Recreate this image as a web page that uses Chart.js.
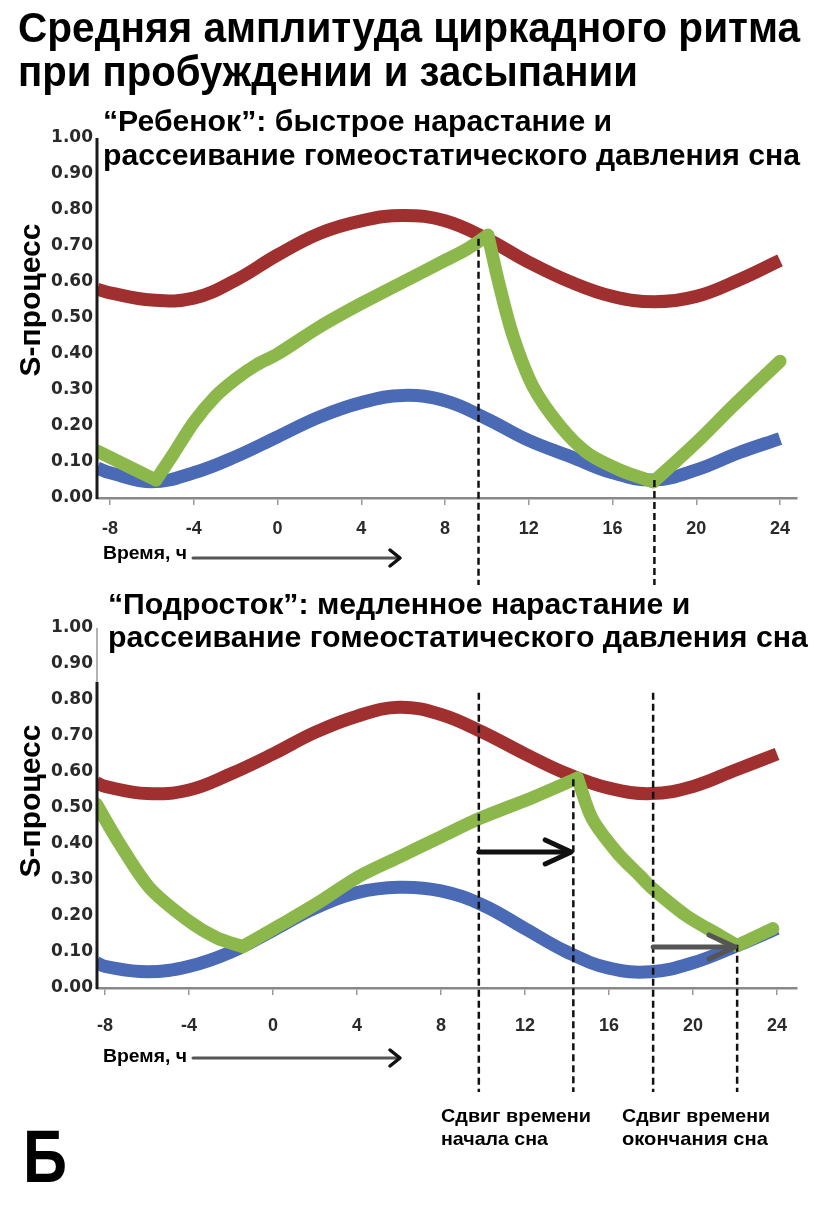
<!DOCTYPE html>
<html>
<head>
<meta charset="utf-8">
<script src="https://cdn.jsdelivr.net/npm/chart.js@4.4.1/dist/chart.umd.min.js"></script>
<style>
  body { margin: 0; width: 820px; height: 1208px; position: relative; overflow: hidden; background: #fff;
         font-family: "Liberation Sans", Arial, sans-serif; font-weight: bold; color: #000; }
  .t { position: absolute; white-space: nowrap; line-height: 1; transform-origin: left top; z-index: 2; }
  canvas { position: absolute; left: 0; z-index: 1; }
</style>
</head>
<body>
<canvas id="child_chart" width="820" height="600" style="top:0"></canvas>
<canvas id="teen_chart" width="820" height="608" style="top:600px"></canvas>
<script>
// hours on the x axis
const hourTicks = [-8, -4, 0, 4, 8, 12, 16, 20, 24]

// "Ребенок" (top chart)
const childHours = [-8.6, -8, -6, -4, -2, 0, 2, 4, 6, 8, 10, 12, 14, 16, 18, 20, 22, 24]
const childRed   = [0.58, 0.57, 0.55, 0.555, 0.605, 0.675, 0.735, 0.77, 0.785, 0.77, 0.72, 0.655, 0.60, 0.56, 0.545, 0.56, 0.605, 0.66]
const childBlue  = [0.083, 0.07, 0.045, 0.07, 0.115, 0.17, 0.225, 0.265, 0.285, 0.27, 0.22, 0.16, 0.115, 0.07, 0.05, 0.078, 0.125, 0.165]
const childGreenHours = [-8.6, -7.2, -5.8, -5, -4, -3, -2, -1, 0, 2, 4, 6, 8, 9, 10.05, 10.6, 11.25, 12.2, 13.5, 14.8, 16.35, 17.95, 19, 20.2, 21.75, 24]
const childGreenVals  = [0.13, 0.09, 0.05, 0.12, 0.21, 0.28, 0.33, 0.37, 0.40, 0.475, 0.54, 0.60, 0.66, 0.69, 0.73, 0.59, 0.45, 0.31, 0.20, 0.125, 0.078, 0.045, 0.10, 0.165, 0.255, 0.38]
const childMarkers   = [9.6, 18]
const childMarkerTop = [0.72, 0.05]

// "Подросток" (bottom chart)
const teenHours = [-8.4, -8, -6, -4, -2, 0, 2, 4, 6, 8, 10, 12, 14, 16, 18, 20, 22, 24]
const teenRed   = [0.57, 0.56, 0.54, 0.55, 0.595, 0.65, 0.71, 0.755, 0.78, 0.76, 0.71, 0.65, 0.595, 0.555, 0.54, 0.56, 0.605, 0.65]
const teenBlue  = [0.07, 0.06, 0.045, 0.06, 0.10, 0.16, 0.222, 0.265, 0.28, 0.27, 0.23, 0.165, 0.10, 0.055, 0.045, 0.07, 0.115, 0.165]
const teenGreenHours = [-8.4, -7.4, -5.9, -4.1, -2.7, -1.45, 0.5, 2.1, 4.1, 6.05, 8, 9.8, 12.4, 14.5, 15.2, 16.4, 17.5, 18.1, 19.7, 21.3, 22.1, 23.8]
const teenGreenVals  = [0.51, 0.41, 0.28, 0.19, 0.14, 0.115, 0.18, 0.235, 0.31, 0.365, 0.42, 0.47, 0.53, 0.583, 0.47, 0.375, 0.31, 0.275, 0.20, 0.145, 0.118, 0.165]
const teenMarkers   = [9.8, 14.3, 18.1, 22.1]
const teenMarkerTop = [0.82, 0.58, 0.82, 0.12]
const shiftFrom  = [9.8, 18.1]
const shiftTo    = [14.2, 22.0]
const shiftLevel = [0.378, 0.114]

const RED = '#a0302f', BLUE = '#4a6ab6', GREEN = '#8cb84b'

function toPoints(hours, vals) {
  return hours.map((h, i) => ({x: h, y: vals[i]}))
}

// cut the green curve at its turning points so every piece can be smooth and the corners stay sharp
function pieces(hours, vals) {
  const out = []
  let cur = [{x: hours[0], y: vals[0]}]
  for (let i = 1; i < hours.length; i++) {
    cur.push({x: hours[i], y: vals[i]})
    if (i < hours.length - 1 && (vals[i] - vals[i-1]) * (vals[i+1] - vals[i]) < 0) {
      out.push(cur)
      cur = [{x: hours[i], y: vals[i]}]
    }
  }
  out.push(cur)
  return out
}

function arrowHead(ctx, tipX, tipY, len, half) {
  ctx.beginPath()
  ctx.moveTo(tipX - len, tipY - half)
  ctx.lineTo(tipX, tipY)
  ctx.lineTo(tipX - len, tipY + half)
  ctx.stroke()
}

const markerPlugin = {
  id: 'markers',
  afterDatasetsDraw(chart, args, o) {
    const {ctx, chartArea} = chart
    const x = chart.scales.x, y = chart.scales.y
    ctx.save()
    // y axis line (the lower chart has only a thin line above the split value)
    const split = y.getPixelForValue(o.axisSplit)
    ctx.strokeStyle = '#999'
    ctx.lineWidth = 1.5
    ctx.beginPath()
    ctx.moveTo(chartArea.left, chartArea.top)
    ctx.lineTo(chartArea.left, split)
    ctx.stroke()
    ctx.strokeStyle = '#1a1a1a'
    ctx.lineWidth = 3
    ctx.beginPath()
    ctx.moveTo(chartArea.left, split)
    ctx.lineTo(chartArea.left, chartArea.bottom + 1)
    ctx.stroke()
    // dashed sleep / wake lines
    ctx.strokeStyle = '#111'
    ctx.lineWidth = 2.5
    ctx.setLineDash([7, 4])
    o.hours.forEach((h, i) => {
      const px = x.getPixelForValue(h)
      ctx.beginPath()
      ctx.moveTo(px, y.getPixelForValue(o.tops[i]))
      ctx.lineTo(px, chartArea.bottom + o.drop)
      ctx.stroke()
    })
    ctx.setLineDash([])
    // shift arrows
    ctx.lineCap = 'round'
    ctx.lineJoin = 'round'
    ;(o.from || []).forEach((h, i) => {
      const x0 = x.getPixelForValue(h), x1 = x.getPixelForValue(o.to[i]), py = y.getPixelForValue(o.level[i])
      ctx.strokeStyle = i === 0 ? '#111' : '#555'
      ctx.lineWidth = 5
      ctx.beginPath()
      ctx.moveTo(x0, py)
      ctx.lineTo(x1 - 2, py)
      ctx.stroke()
      arrowHead(ctx, x1, py, 26, 12)
    })
    // "Время, ч" arrow
    const ay = chartArea.bottom + o.timeArrow
    ctx.strokeStyle = '#555'
    ctx.lineWidth = 3
    ctx.beginPath()
    ctx.moveTo(chartArea.left + 96, ay)
    ctx.lineTo(chartArea.left + 300, ay)
    ctx.stroke()
    ctx.strokeStyle = '#111'
    ctx.lineWidth = 3.5
    arrowHead(ctx, chartArea.left + 303, ay, 10, 8)
    ctx.restore()
  }
}

function makeChart(id, p) {
  const curve = (data, color, tension) => ({
    data, borderColor: color, borderWidth: 13, pointRadius: 0, tension,
    borderCapStyle: 'butt', borderJoinStyle: 'round',
    clip: {left: 0, right: 8, top: 10, bottom: 10}
  })
  const datasets = pieces(p.greenHours, p.greenVals).map(seg => {
    const d = curve(seg, GREEN, 0.3)
    d.borderCapStyle = 'round'
    return d
  })
  datasets.push(curve(toPoints(p.hours, p.red), RED, 0.4))
  datasets.push(curve(toPoints(p.hours, p.blue), BLUE, 0.4))

  return new Chart(document.getElementById(id), {
    type: 'line',
    data: {datasets},
    options: {
      responsive: false,
      animation: false,
      layout: {padding: {top: p.top, left: 0, right: 23, bottom: p.bottom}},
      plugins: {
        legend: {display: false},
        tooltip: {enabled: false},
        markers: p.markers
      },
      scales: {
        x: {
          type: 'linear', min: p.xmin, max: p.xmax,
          afterBuildTicks: s => { s.ticks = hourTicks.map(v => ({value: v})) },
          afterFit: s => { s.height = 45 },
          ticks: {font: {family: 'Liberation Sans', weight: 'bold', size: 18}, color: '#2a2a2a', padding: p.xPad},
          grid: {drawOnChartArea: false, drawTicks: true, tickLength: 7, color: '#999', lineWidth: 1.5},
          border: {color: '#888', width: 2.5}
        },
        y: {
          min: 0, max: 1,
          afterFit: s => { s.width = 97 },
          ticks: {stepSize: 0.1, callback: v => v.toFixed(2), font: {family: 'DejaVu Sans', weight: 'bold', size: 17}, color: '#2a2a2a', padding: 4},
          grid: {drawOnChartArea: false, drawTicks: false},
          border: {display: false}
        }
      }
    },
    plugins: [markerPlugin]
  })
}

makeChart('child_chart', {
  hours: childHours, red: childRed, blue: childBlue,
  greenHours: childGreenHours, greenVals: childGreenVals,
  xmin: -8.62, xmax: 24.81, top: 138, bottom: 600 - 498 - 45, xPad: 13,
  markers: {hours: childMarkers, tops: childMarkerTop, drop: 87, timeArrow: 60, axisSplit: 1}
})

makeChart('teen_chart', {
  hours: teenHours, red: teenRed, blue: teenBlue,
  greenHours: teenGreenHours, greenVals: teenGreenVals,
  xmin: -8.38, xmax: 24.95, top: 28, bottom: 608 - 388 - 45, xPad: 20,
  markers: {hours: teenMarkers, tops: teenMarkerTop, drop: 104, timeArrow: 70, axisSplit: 0.85,
            from: shiftFrom, to: shiftTo, level: shiftLevel}
})

// text: left, baseline, size, target width
function place(txt, left, base, size, width) {
  const d = document.createElement('div')
  d.className = 't'
  d.textContent = txt
  d.style.fontSize = size + 'px'
  d.style.left = left + 'px'
  d.style.top = (base - 0.8465 * size) + 'px'
  document.body.appendChild(d)
  if (width) {
    const w = d.getBoundingClientRect().width
    d.style.transform = 'scaleX(' + (width / w).toFixed(3) + ')'
  }
}
function placeV(txt, cx, cy, size) {
  const d = document.createElement('div')
  d.className = 't'
  d.textContent = txt
  d.style.fontSize = size + 'px'
  d.style.width = '300px'
  d.style.textAlign = 'center'
  d.style.left = (cx - 150) + 'px'
  d.style.top = (cy - size / 2) + 'px'
  d.style.transformOrigin = 'center center'
  d.style.transform = 'rotate(-90deg)'
  document.body.appendChild(d)
}

place('Средняя амплитуда циркадного ритма', 18, 43, 42, 782)
place('при пробуждении и засыпании', 18, 87, 42, 620)
place('“Ребенок”: быстрое нарастание и', 103, 131, 30, 509)
place('рассеивание гомеостатического давления сна', 103, 165, 30, 697)
place('“Подросток”: медленное нарастание и', 108, 614, 30, 582)
place('рассеивание гомеостатического давления сна', 108, 647, 30, 700)
placeV('S-процесс', 29.6, 300, 30)
placeV('S-процесс', 29.6, 801, 30)
place('Время, ч', 103, 559, 19, 84)
place('Время, ч', 103, 1062, 19, 84)
place('Сдвиг времени', 441, 1122, 19, 150)
place('начала сна', 441, 1145, 19, 107)
place('Сдвиг времени', 622, 1122, 19, 148)
place('окончания сна', 622, 1145, 19, 146)
place('Б', 23, 1182, 75, 44)
</script>
</body>
</html>
